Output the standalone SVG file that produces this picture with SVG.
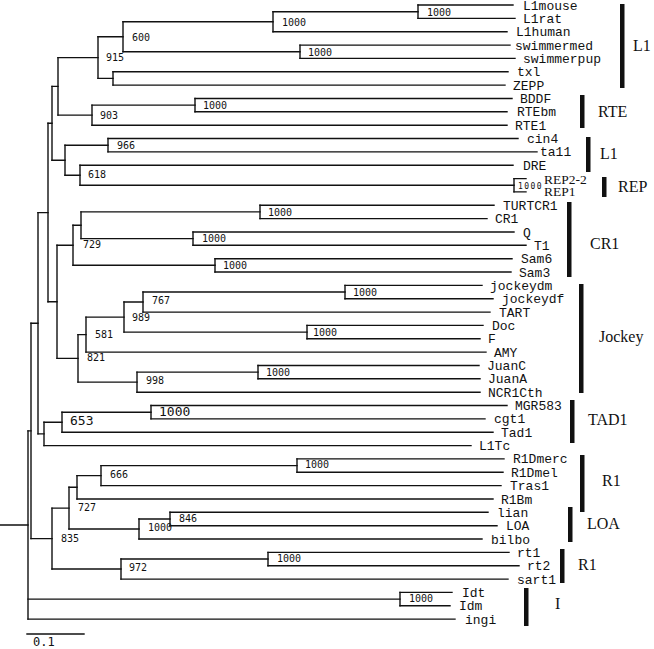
<svg xmlns="http://www.w3.org/2000/svg" width="654" height="649" viewBox="0 0 654 649">
<style>
.br{fill:none;stroke:#111;stroke-width:1.4;stroke-linecap:square}
.lf{font-family:"Liberation Mono","Courier New",monospace;font-size:13px;fill:#111}
.bs{font-family:"DejaVu Sans Mono","Liberation Mono",monospace;font-size:10px;fill:#111}
.bl{font-family:"DejaVu Sans Mono","Liberation Mono",monospace;font-size:13px;fill:#111}
.bt{font-family:"DejaVu Sans Mono","Liberation Mono",monospace;font-size:8px;letter-spacing:1.4px;fill:#111}
.cl{font-family:"Liberation Serif","Times New Roman",serif;font-size:16px;fill:#111}
.rp{font-family:"Liberation Serif","Times New Roman",serif;font-size:13.5px;fill:#111}
.bar{fill:#111}
</style>
<rect width="654" height="649" fill="#fff"/>
<g id="connectors" class="br">
<path d="M418 5V18.4M273 11.7V31.7M300 45.1V58.4M123 21.7V51.7M113 71.8V85.1M98 36.7V78.4M195 98.5V111.8M92 105.1V125.2M58 57.6V115.1M108 138.5V151.9M514 178.6V191.9M80 165.2V185.2M65 145.2V175.2M52 86.4V160.2M260 205.3V218.6M193 232V245.3M81 211.9V238.6M215 258.7V272M73 225.3V265.3M345 285.4V298.7M143 292V312.1M307 325.4V338.8M124 302V332.1M86 317.1V352.1M258 365.5V378.8M137 372.1V392.2M78 334.6V382.1M57 245.3V358.4M48 123.3V301.8M151 405.5V418.9M62 412.2V432.2M44 422.2V445.6M38 212.6V433.9M297 458.9V472.3M101 465.6V485.6M77 475.6V499M170 512.3V525.7M139 519V539M69 487.3V529M268 552.4V565.7M121 559V579.1M52 508.1V569M31 323.2V538.6M400 592.4V605.8M28 430.9V619.1"/>
<path d="M273 11.7H418M123 21.7H273M123 51.7H300M98 36.7H123M98 78.4H113M58 57.6H98M92 105.1H195M58 115.1H92M52 86.4H58M65 145.2H108M80 185.2H514M65 175.2H80M52 160.2H65M48 123.3H52M81 211.9H260M81 238.6H193M73 225.3H81M73 265.3H215M57 245.3H73M143 292H345M124 302H143M124 332.1H307M86 317.1H124M137 372.1H258M78 334.6H86M78 382.1H137M57 358.4H78M48 301.8H57M38 212.6H48M62 412.2H151M44 422.2H62M38 433.9H44M31 323.2H38M101 465.6H297M77 475.6H101M69 487.3H77M139 519H170M69 529H139M52 508.1H69M121 559H268M52 569H121M31 538.6H52M28 430.9H31M28 599.1H400M0 525H28"/>
<path d="M418 5H513M418 18.4H515M273 31.7H507M300 45.1H510M300 58.4H515M113 71.8H508M113 85.1H505M195 98.5H512M195 111.8H507M92 125.2H507M108 138.5H518M108 151.9H537M80 165.2H513M514 178.6H526M514 191.9H526M260 205.3H494M260 218.6H487M193 232H514M193 245.3H526M215 258.7H512M215 272H511M345 285.4H482M345 298.7H493M143 312.1H490M307 325.4H483M307 338.8H480M86 352.1H486M258 365.5H479M258 378.8H480M137 392.2H480M151 405.5H507M151 418.9H485M62 432.2H493M44 445.6H471M297 458.9H504M297 472.3H503M101 485.6H501M77 499H493M170 512.3H488M170 525.7H497M139 539H482M268 552.4H509M268 565.7H519M121 579.1H508M400 592.4H452M400 605.8H450M28 619.1H455"/>
<path d="M27 634H84"/>
</g>
<g id="leaves" class="lf">
<g id="n-L1mouse"><text x="523" y="9.5">L1mouse</text></g>
<g id="n-L1rat"><text x="523" y="22.9">L1rat</text></g>
<g id="n-L1human"><text x="516" y="36.2">L1human</text></g>
<g id="n-swimmermed"><text x="515" y="49.6">swimmermed</text></g>
<g id="n-swimmerpup"><text x="523" y="62.9">swimmerpup</text></g>
<g id="n-txl"><text x="517" y="76.3">txl</text></g>
<g id="n-ZEPP"><text x="513" y="89.6">ZEPP</text></g>
<g id="n-BDDF"><text x="520" y="103">BDDF</text></g>
<g id="n-RTEbm"><text x="517" y="116.3">RTEbm</text></g>
<g id="n-RTE1"><text x="515" y="129.7">RTE1</text></g>
<g id="n-cin4"><text x="527" y="143">cin4</text></g>
<g id="n-ta11"><text x="540" y="156.4">ta11</text></g>
<g id="n-DRE"><text x="523" y="169.7">DRE</text></g>
<g id="n-REP2-2"><text class="rp" x="544" y="183.5">REP2-2</text></g>
<g id="n-REP1"><text class="rp" x="544" y="196">REP1</text></g>
<g id="n-TURTCR1"><text x="503" y="209.8">TURTCR1</text></g>
<g id="n-CR1"><text x="495" y="223.1">CR1</text></g>
<g id="n-Q"><text x="523" y="236.5">Q</text></g>
<g id="n-T1"><text x="534" y="249.8">T1</text></g>
<g id="n-Sam6"><text x="521" y="263.2">Sam6</text></g>
<g id="n-Sam3"><text x="519" y="276.5">Sam3</text></g>
<g id="n-jockeydm"><text x="490" y="289.9">jockeydm</text></g>
<g id="n-jockeydf"><text x="502" y="303.2">jockeydf</text></g>
<g id="n-TART"><text x="499" y="316.6">TART</text></g>
<g id="n-Doc"><text x="492" y="329.9">Doc</text></g>
<g id="n-F"><text x="488" y="343.3">F</text></g>
<g id="n-AMY"><text x="494" y="356.6">AMY</text></g>
<g id="n-JuanC"><text x="487" y="370">JuanC</text></g>
<g id="n-JuanA"><text x="488" y="383.3">JuanA</text></g>
<g id="n-NCR1Cth"><text x="488" y="396.7">NCR1Cth</text></g>
<g id="n-MGR583"><text x="515" y="410">MGR583</text></g>
<g id="n-cgt1"><text x="494" y="423.4">cgt1</text></g>
<g id="n-Tad1"><text x="501" y="436.7">Tad1</text></g>
<g id="n-L1Tc"><text x="479" y="450.1">L1Tc</text></g>
<g id="n-R1Dmerc"><text x="513" y="463.4">R1Dmerc</text></g>
<g id="n-R1Dmel"><text x="511" y="476.8">R1Dmel</text></g>
<g id="n-Tras1"><text x="510" y="490.1">Tras1</text></g>
<g id="n-R1Bm"><text x="501" y="503.5">R1Bm</text></g>
<g id="n-lian"><text x="497" y="516.8">lian</text></g>
<g id="n-LOA"><text x="506" y="530.2">LOA</text></g>
<g id="n-bilbo"><text x="491" y="543.5">bilbo</text></g>
<g id="n-rt1"><text x="517" y="556.9">rt1</text></g>
<g id="n-rt2"><text x="527" y="570.2">rt2</text></g>
<g id="n-sart1"><text x="517" y="583.6">sart1</text></g>
<g id="n-Idt"><text x="462" y="596.9">Idt</text></g>
<g id="n-Idm"><text x="459" y="610.3">Idm</text></g>
<g id="n-ingi"><text x="465" y="623.6">ingi</text></g>
</g>
<g id="bootstrap" class="bs">
<g id="b1"><text x="427" y="15.5">1000</text></g>
<g id="b2"><text x="282" y="25.5">1000</text></g>
<g id="b3"><text x="132" y="40.5">600</text></g>
<g id="b4"><text x="308" y="55.5">1000</text></g>
<g id="b5"><text x="106" y="61">915</text></g>
<g id="b6"><text x="203" y="108.5">1000</text></g>
<g id="b7"><text x="100" y="119">903</text></g>
<g id="b8"><text x="117" y="148.5">966</text></g>
<g id="b9"><text x="88" y="178">618</text></g>
<g id="b10"><text class="bt" x="518" y="188.5">1000</text></g>
<g id="b11"><text x="268" y="215.5">1000</text></g>
<g id="b12"><text x="202" y="241.5">1000</text></g>
<g id="b13"><text x="83" y="248">729</text></g>
<g id="b14"><text x="223" y="268.5">1000</text></g>
<g id="b15"><text x="353" y="295.5">1000</text></g>
<g id="b16"><text x="152" y="304">767</text></g>
<g id="b17"><text x="132" y="320.5">989</text></g>
<g id="b18"><text x="313" y="335.5">1000</text></g>
<g id="b19"><text x="95" y="338">581</text></g>
<g id="b20"><text x="87" y="360.5">821</text></g>
<g id="b21"><text x="266" y="375.5">1000</text></g>
<g id="b22"><text x="146" y="383.5">998</text></g>
<g id="b23"><text class="bl" x="159" y="415.5">1000</text></g>
<g id="b24"><text class="bl" x="70" y="424.5">653</text></g>
<g id="b25"><text x="305" y="468">1000</text></g>
<g id="b26"><text x="110" y="478">666</text></g>
<g id="b27"><text x="78" y="511">727</text></g>
<g id="b28"><text x="179" y="521.5">846</text></g>
<g id="b29"><text x="148" y="531">1000</text></g>
<g id="b30"><text x="61" y="542">835</text></g>
<g id="b31"><text x="277" y="562">1000</text></g>
<g id="b32"><text x="129" y="571">972</text></g>
<g id="b33"><text x="409" y="602">1000</text></g>
</g>
<g id="clades">
<g id="c-L1a"><rect class="bar" x="620" y="4" width="4.5" height="84"/><text class="cl" x="633" y="50.5">L1</text></g>
<g id="c-RTE"><rect class="bar" x="580" y="95" width="4.5" height="33"/><text class="cl" x="598" y="116.5">RTE</text></g>
<g id="c-L1b"><rect class="bar" x="586" y="137" width="4.5" height="35"/><text class="cl" x="600" y="158.5">L1</text></g>
<g id="c-REP"><rect class="bar" x="602" y="177" width="4.5" height="20"/><text class="cl" x="618" y="191.5">REP</text></g>
<g id="c-CR1"><rect class="bar" x="567" y="202" width="4.5" height="75"/><text class="cl" x="590" y="248.5">CR1</text></g>
<g id="c-Jockey"><rect class="bar" x="579" y="284" width="4.5" height="109"/><text class="cl" x="599" y="342">Jockey</text></g>
<g id="c-TAD1"><rect class="bar" x="570" y="400" width="4.5" height="43"/><text class="cl" x="588" y="424.5">TAD1</text></g>
<g id="c-R1a"><rect class="bar" x="580" y="455" width="4.5" height="57"/><text class="cl" x="602" y="485.5">R1</text></g>
<g id="c-LOA"><rect class="bar" x="568" y="507" width="4.5" height="35"/><text class="cl" x="587" y="528.5">LOA</text></g>
<g id="c-R1b"><rect class="bar" x="560" y="549" width="4.5" height="34"/><text class="cl" x="578" y="569.5">R1</text></g>
<g id="c-I"><rect class="bar" x="524" y="588" width="4.5" height="38"/><text class="cl" x="555" y="608.5">I</text></g>
</g>
<g id="scale"><text x="33" y="646" style="font-family:'DejaVu Sans Mono','Liberation Mono',monospace;font-size:12px;fill:#111">0.1</text></g>
</svg>
